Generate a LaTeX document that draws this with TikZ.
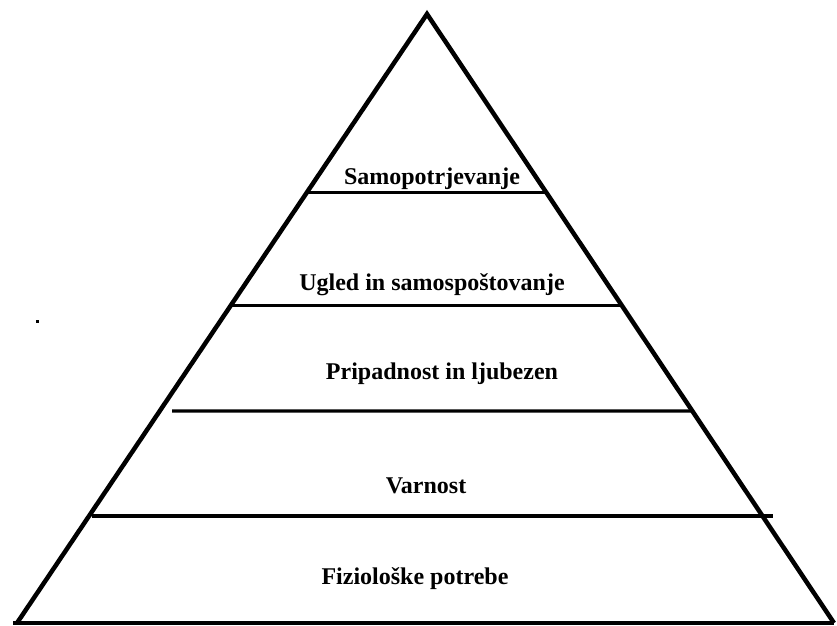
\documentclass[tikz,border=0pt]{standalone}
\usepackage{fontspec}
\setmainfont{Liberation Serif}
\usetikzlibrary{calc}
\begin{document}
\begin{tikzpicture}[x=1pt,y=-1pt,
  side/.style={line width=4.5pt,line join=miter},
  level/.style={line width=3.2pt},
  lbl/.style={font=\fontsize{24}{28}\selectfont\bfseries,inner sep=0pt,anchor=center}]
\useasboundingbox (0,0) rectangle (837,625);
\fill[white] (0,0) rectangle (837,625);
\coordinate (A) at (427,14);
\coordinate (B) at (17,623);
\coordinate (C) at (834,623);
\draw[side] (B) -- (A) -- (C);
\draw[level] ($(B)+(-4,0)$) -- (C);
% level lines
\coordinate (l1) at ($(A)!0.293!(B)$);
\coordinate (r1) at ($(A)!0.293!(C)$);
\coordinate (l2) at ($(A)!0.478!(B)$);
\coordinate (r2) at ($(A)!0.478!(C)$);
\coordinate (l3) at (172,411);
\coordinate (r3) at ($(A)!0.652!(C)$);
\coordinate (l4) at (92,516);
\coordinate (r4) at (773,516);
\draw[level] (l1) -- (r1);
\draw[level] (l2) -- (r2);
\draw[level] (l3) -- (r3);
\draw[level] (l4) -- (r4);
% labels
\node[lbl] (t1) at (432,179) {Samopotrjevanje};
\node[lbl] (t2) at (432,285) {Ugled in samospoštovanje};
\node[lbl] (t3) at (442,374) {Pripadnost in ljubezen};
\node[lbl] (t4) at (426,486) {Varnost};
\node[lbl] (t5) at (415,579) {Fiziološke potrebe};
% stray mark
\fill (35.5,320) rectangle (38.5,322.5);
\end{tikzpicture}
\end{document}
